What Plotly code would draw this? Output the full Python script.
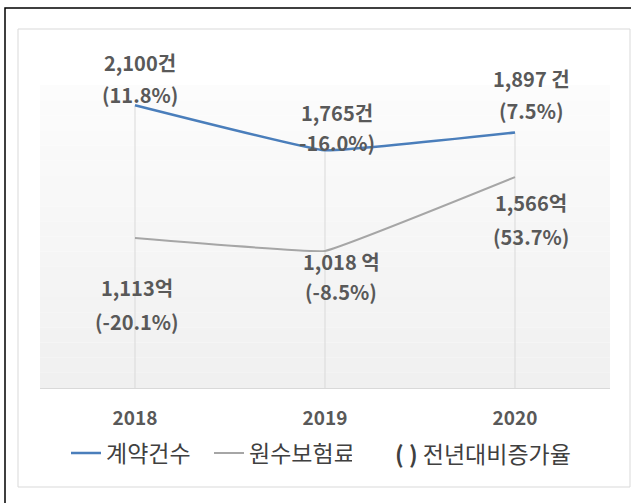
import plotly.graph_objects as go

years = ["2018", "2019", "2020"]
contracts = [2100, 1765, 1897]
premiums = [1113, 1018, 1566]
contract_labels = ["2,100건", "1,765건", "1,897 건"]
contract_pct = ["(11.8%)", "-16.0%)", "(7.5%)"]
premium_labels = ["1,113억", "1,018 억", "1,566억"]
premium_pct = ["(-20.1%)", "(-8.5%)", "(53.7%)"]
series_names = ["계약건수", "원수보험료"]
note_text = "( ) 전년대비증가율"

W, H = 631, 503
L, R, T, B = 40, 21, 85, 115
PW, PH = W - L - R, H - T - B

def px(x):
    return (x - L) / PW

def py(y):
    return (H - B - y) / PH

BLUE = "#4a7ebb"
GRAY = "#a6a6a6"
TXT = "#595959"
FONT = "Noto Sans CJK KR"

fig = go.Figure()

# drop lines
for yr, v in zip(years, contracts):
    fig.add_trace(go.Scatter(x=[yr, yr], y=[0, v], mode="lines",
                             line=dict(color="#d9d9d9", width=1),
                             showlegend=False, hoverinfo="skip"))

fig.add_trace(go.Scatter(x=years, y=contracts, mode="lines", name=series_names[0],
                         line=dict(color=BLUE, width=2.5, shape="spline", smoothing=0.25)))
fig.add_trace(go.Scatter(x=years, y=premiums, mode="lines", name=series_names[1],
                         line=dict(color=GRAY, width=2, shape="spline", smoothing=0.2)))

ann = []
lab_font = dict(family=FONT, size=20, color=TXT)
c_off = [(5, -43, -11), (12, -38, -8), (16, -54, -22)]
p_off = [(2, 49, 83), (16, 11, 41), (16, 25, 59)]
for i, yr in enumerate(years):
    dx, d1, d2 = c_off[i]
    ann.append(dict(x=i, y=contracts[i], xref="x", yref="y", text="<b>%s</b>" % contract_labels[i],
                    showarrow=False, xshift=dx, yshift=-d1, font=lab_font))
    ann.append(dict(x=i, y=contracts[i], xref="x", yref="y", text="<b>%s</b>" % contract_pct[i],
                    showarrow=False, xshift=dx, yshift=-d2, font=lab_font))
    dx, d1, d2 = p_off[i]
    ann.append(dict(x=i, y=premiums[i], xref="x", yref="y", text="<b>%s</b>" % premium_labels[i],
                    showarrow=False, xshift=dx, yshift=-d1, font=lab_font))
    ann.append(dict(x=i, y=premiums[i], xref="x", yref="y", text="<b>%s</b>" % premium_pct[i],
                    showarrow=False, xshift=dx, yshift=-d2, font=lab_font))

ann.append(dict(xref="paper", yref="paper", x=px(393), y=py(453), xanchor="left", yanchor="middle",
                text="<b>( )</b> 전년대비증가율", showarrow=False,
                font=dict(family=FONT, size=23, color="#404040")))

shapes = []
# gradient background of plot area
n = 20
c0, c1 = (252, 252, 252), (240, 240, 240)
for k in range(n):
    t = k / (n - 1)
    c = tuple(round(c0[j] + (c1[j] - c0[j]) * t) for j in range(3))
    shapes.append(dict(type="rect", xref="paper", yref="paper", layer="below",
                       x0=0, x1=1, y0=1 - (k + 1) / n, y1=1 - k / n,
                       fillcolor="rgb(%d,%d,%d)" % c, line=dict(width=0)))
# inner frame
shapes.append(dict(type="rect", xref="paper", yref="paper", layer="below",
                   x0=px(18), x1=px(630), y0=py(487), y1=py(29),
                   line=dict(color="#d9d9d9", width=1)))
# outer black frame
shapes.append(dict(type="rect", xref="paper", yref="paper",
                   x0=px(5), x1=px(640), y0=py(510), y1=py(8),
                   line=dict(color="#000000", width=1.5)))

fig.update_layout(
    width=W, height=H,
    margin=dict(l=L, r=R, t=T, b=B),
    paper_bgcolor="white", plot_bgcolor="rgba(0,0,0,0)",
    showlegend=True,
    legend=dict(orientation="h", x=px(66), y=py(453), xanchor="left", yanchor="middle",
                font=dict(family=FONT, size=23, color="#404040"),
                bgcolor="rgba(0,0,0,0)", itemwidth=30, tracegroupgap=0,
                entrywidth=98, entrywidthmode="pixels"),
    annotations=ann, shapes=shapes,
    xaxis=dict(type="category", range=[-0.5, 2.5], showgrid=False, zeroline=False,
               showline=True, linecolor="#d9d9d9", linewidth=1, ticks="",
               ticklabelstandoff=13,
               tickfont=dict(family=FONT, size=19, color=TXT, weight="bold")),
    yaxis=dict(range=[0, 2250], visible=False, showgrid=False),
)
fig.update_traces(cliponaxis=False)

fig.write_html("out.html", config={"displayModeBar": False},
               post_script="document.body.style.margin='0';document.body.style.overflow='hidden';")
